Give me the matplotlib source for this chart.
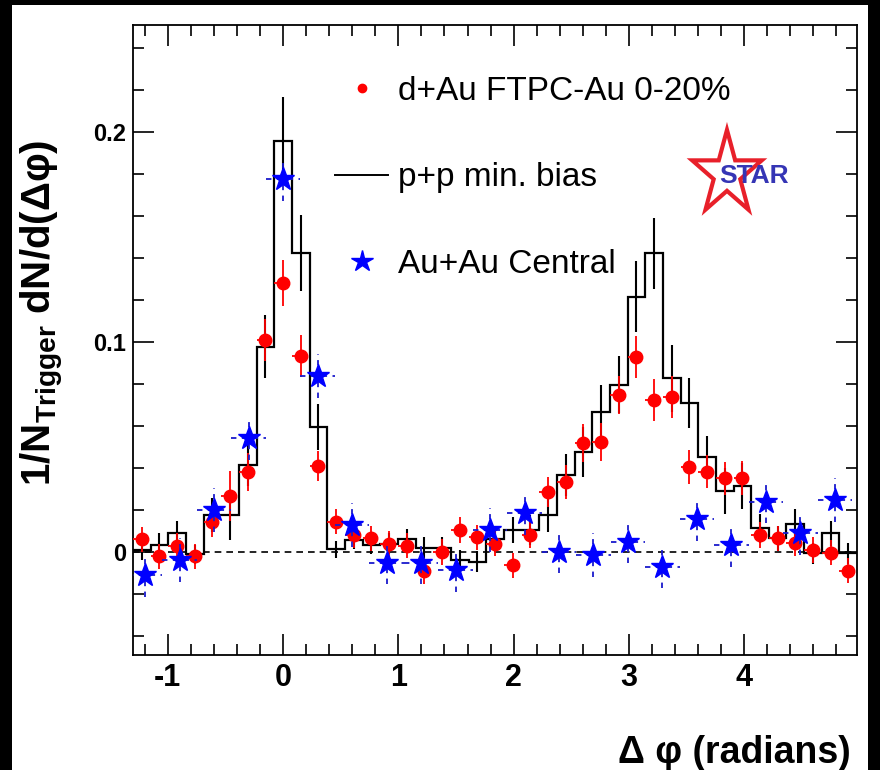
import numpy as np
import matplotlib
matplotlib.use("Agg")
import matplotlib.pyplot as plt
from matplotlib.lines import Line2D
from matplotlib.patches import Rectangle, Polygon
from matplotlib.ticker import MultipleLocator, FixedLocator

plt.rcParams['font.family'] = ['Liberation Sans', 'DejaVu Sans']
plt.rcParams['axes.unicode_minus'] = False
plt.rcParams['mathtext.fontset'] = 'custom'
plt.rcParams['mathtext.rm'] = 'Liberation Sans:bold'
plt.rcParams['mathtext.it'] = 'Liberation Sans:bold'
plt.rcParams['mathtext.bf'] = 'Liberation Sans:bold'

# ---------------- data ----------------
# fine binning (d+Au and p+p): 41 bins over 2*pi, centred on 0
fine_bin_index = np.arange(-8, 33)
fine_bin_width = 2 * np.pi / 41
# coarse binning (Au+Au): 21 bins over 2*pi, centred on 0
coarse_bin_index = np.arange(-4, 17)
coarse_bin_width = 2 * np.pi / 21

dAu_values = [0.006, -0.002, 0.003, -0.002, 0.0144, 0.0267, 0.038, 0.101, 0.128,
              0.0933, 0.041, 0.0144, 0.0081, 0.0065, 0.004, 0.003, -0.009, 0.0,
              0.0105, 0.007, 0.004, -0.0062, 0.0081, 0.0287, 0.0335, 0.0521,
              0.0525, 0.0748, 0.0927, 0.0724, 0.074, 0.0406, 0.0383, 0.0351,
              0.0354, 0.0081, 0.0065, 0.0041, 0.001, -0.0003, -0.0089]
dAu_errors = [0.006, 0.006, 0.006, 0.006, 0.007, 0.012, 0.009, 0.01, 0.011,
              0.01, 0.007, 0.006, 0.006, 0.006, 0.006, 0.006, 0.006, 0.006,
              0.006, 0.006, 0.006, 0.006, 0.006, 0.007, 0.008, 0.009,
              0.009, 0.009, 0.01, 0.01, 0.01, 0.008, 0.008, 0.008,
              0.008, 0.006, 0.006, 0.006, 0.006, 0.006, 0.006]

pp_values = [0.001, 0.0033, 0.009, -0.001, 0.0176, 0.0176, 0.0414, 0.0978, 0.1957,
             0.1424, 0.0594, 0.0013, 0.0057, 0.0033, 0.004, 0.006, 0.002, 0.002,
             -0.004, -0.0046, 0.006, 0.0105, 0.0105, 0.0176, 0.0367, 0.0478,
             0.0668, 0.0798, 0.1216, 0.1422, 0.0827, 0.0711, 0.0454, 0.0292,
             0.0316, 0.0113, 0.0065, 0.0133, -0.0006, 0.0089, -0.0006]
pp_errors = [0.005, 0.006, 0.006, 0.0045, 0.008, 0.012, 0.010, 0.015, 0.021,
             0.018, 0.011, 0.004, 0.004, 0.004, 0.005, 0.005, 0.005, 0.005,
             0.005, 0.005, 0.006, 0.006, 0.007, 0.008, 0.010, 0.012,
             0.013, 0.0135, 0.017, 0.017, 0.016, 0.012, 0.010, 0.011,
             0.011, 0.007, 0.006, 0.007, 0.005, 0.006, 0.005]

AuAu_values = [-0.011, -0.0038, 0.020, 0.0541, 0.1775, 0.0838, 0.0129, -0.005,
               -0.005, -0.0086, 0.0105, 0.0184, 0.0002, -0.0014, 0.0049, -0.007,
               0.0156, 0.0033, 0.024, 0.0089, 0.0248]
AuAu_errors = [0.0103] * 21

legend_labels = ["d+Au FTPC-Au 0-20%", "p+p min. bias", "Au+Au Central"]
x_ticks = [-1, 0, 1, 2, 3, 4]
y_ticks = [0, 0.1, 0.2]
y_tick_labels = ["0", "0.1", "0.2"]

# ---------------- derived ----------------
fine_x = fine_bin_index * fine_bin_width
fine_edges = np.append(fine_x - fine_bin_width / 2, fine_x[-1] + fine_bin_width / 2)
coarse_x = coarse_bin_index * coarse_bin_width

# ---------------- figure ----------------
fig = plt.figure(figsize=(8.8, 7.7), dpi=100, facecolor='black')
fig.patches.append(Rectangle((12 / 880, 0), (868 - 12) / 880, (770 - 5) / 770,
                             transform=fig.transFigure, facecolor='white',
                             edgecolor='none', zorder=-10))
ax = fig.add_axes([133.3 / 880, 115 / 770, (857.3 - 133.3) / 880, (655 - 25) / 770])
ax.set_facecolor('white')

ax.axhline(0, color='black', lw=1.2, ls=(0, (4, 3)), zorder=1)

ax.stairs(pp_values, fine_edges, baseline=None, color='black', lw=1.6, zorder=2)
ax.errorbar(fine_x, pp_values, yerr=pp_errors, fmt='none', ecolor='black',
            elinewidth=1.5, zorder=2)

# d+Au
ebx = ax.errorbar(fine_x, dAu_values, xerr=fine_bin_width / 2, fmt='none',
                  ecolor='red', elinewidth=1.3, zorder=3)
for lc in ebx.lines[2]:
    lc.set_linestyle((0, (3, 2)))
ax.errorbar(fine_x, dAu_values, yerr=dAu_errors, fmt='o', color='red', ms=9,
            mec='red', ecolor='red', elinewidth=1.3, zorder=3)

# Au+Au
eb = ax.errorbar(coarse_x, AuAu_values, xerr=coarse_bin_width / 2, yerr=AuAu_errors,
                 fmt='*', color='blue', ms=17, mec='blue', ecolor='#1a1acc',
                 elinewidth=1.3, zorder=4)
for lc in eb.lines[2]:
    lc.set_linestyle((0, (3, 3)))

ax.set_xlim(-1.3, 4.982)
ax.set_ylim(-0.049, 0.251)
ax.xaxis.set_major_locator(FixedLocator(x_ticks))
ax.xaxis.set_minor_locator(MultipleLocator(0.2))
ax.set_yticks(y_ticks)
ax.set_yticklabels(y_tick_labels)
ax.yaxis.set_minor_locator(MultipleLocator(0.02))
ax.tick_params(which='both', direction='in', top=True, right=True, width=1.2)
ax.tick_params(which='major', length=15)
ax.tick_params(which='minor', length=8)
ax.tick_params(axis='x', which='major', labelsize=22, pad=6)
ax.tick_params(axis='y', which='major', labelsize=17, pad=5)
for lab in ax.get_xticklabels() + ax.get_yticklabels():
    lab.set_fontweight('bold')
for s in ax.spines.values():
    s.set_linewidth(1.3)

# legend
handles = [Line2D([], [], ls='none', marker='o', color='red', ms=6),
           Line2D([], [], color='black', lw=1.4),
           Line2D([], [], ls='none', marker='*', color='blue', ms=16)]
ax.legend(handles, legend_labels, loc='upper left', bbox_to_anchor=(0.2786, 0.919),
          frameon=False, fontsize=24, borderpad=0, borderaxespad=0,
          handlelength=1.6, handletextpad=0.3, labelspacing=1.66)

# STAR logo
cx, cy, rx, ry = 0.820, 0.7635, 0.0505, 0.070
ang = np.pi / 2 + np.arange(10) * np.pi / 5
rad = np.where(np.arange(10) % 2 == 0, 1.0, 0.382)
star = Polygon(np.column_stack([cx + rx * rad * np.cos(ang), cy + ry * rad * np.sin(ang)]),
               closed=True, transform=ax.transAxes, facecolor='none',
               edgecolor='#e8202a', lw=3, zorder=5)
ax.add_patch(star)
ax.text(0.858, 0.7603, "STAR", transform=ax.transAxes, ha='center', va='center',
        fontsize=19, fontweight='bold', color='#3535b5', zorder=6)

# axis titles
fig.text(851 / 880, 17 / 770, "Δ φ (radians)", ha='right', va='center',
         fontsize=27, fontweight='bold')
fig.text(42 / 880, (770 - 313) / 770, r"$\mathrm{1/N_{Trigger}}$ dN/d(Δφ)",
         rotation=90, ha='center', va='center', fontsize=29, fontweight='bold')

fig.savefig("out.png", dpi=100, facecolor=fig.get_facecolor())
